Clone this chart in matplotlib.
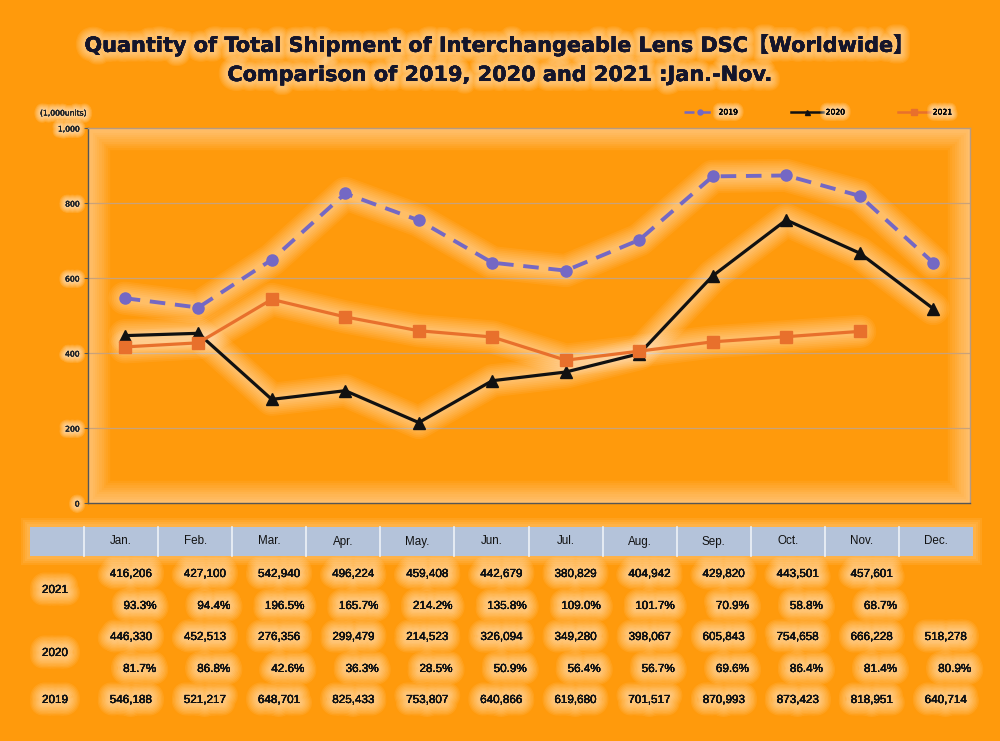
import matplotlib
matplotlib.use("Agg")
import matplotlib.pyplot as plt
import matplotlib.patheffects as pe
from matplotlib.patches import Rectangle

months = ["Jan.", "Feb.", "Mar.", "Apr.", "May.", "Jun.", "Jul.", "Aug.", "Sep.", "Oct.", "Nov.", "Dec."]
v2019 = [546188, 521217, 648701, 825433, 753807, 640866, 619680, 701517, 870993, 873423, 818951, 640714]
v2020 = [446330, 452513, 276356, 299479, 214523, 326094, 349280, 398067, 605843, 754658, 666228, 518278]
v2021 = [416206, 427100, 542940, 496224, 459408, 442679, 380829, 404942, 429820, 443501, 457601]
p2020 = ["81.7%", "86.8%", "42.6%", "36.3%", "28.5%", "50.9%", "56.4%", "56.7%", "69.6%", "86.4%", "81.4%", "80.9%"]
p2021 = ["93.3%", "94.4%", "196.5%", "165.7%", "214.2%", "135.8%", "109.0%", "101.7%", "70.9%", "58.8%", "68.7%"]
yticks = [0, 200, 400, 600, 800, 1000]

BG = "#FF9A0C"
W, H = 1000, 741


def glow(width=6, n=5, color="white", alpha=0.12, minw=0.0):
    effs = []
    for i in range(n, 0, -1):
        effs.append(pe.withStroke(linewidth=minw + (width - minw) * i / n, foreground=color, alpha=alpha))
    effs.append(pe.Normal())
    return effs


fig = plt.figure(figsize=(10, 7.41), dpi=100, facecolor=BG)

# axes
ax = fig.add_axes([88 / W, 1 - 503 / H, 882 / W, 375 / H])
ax.set_facecolor(BG)
ax.set_xlim(-0.5, 11.5)
ax.set_ylim(0, 1000)
ax.set_yticks(yticks)
ax.set_yticklabels([f"{t:,}" for t in yticks], fontsize=5.5, color="#222222")
for lab in ax.get_yticklabels():
    lab.set_path_effects(glow(9, 6, alpha=0.12))
ax.set_xticks([])
ax.tick_params(axis="y", length=3, width=0.8, color="#555555", pad=3)
for y in yticks[1:-1]:
    ax.axhline(y, color="#C9A27A", lw=0.9, zorder=1)
ax.spines["left"].set_color("#555555")
ax.spines["bottom"].set_color("#555555")
ax.spines["top"].set_color("#B89A80")
ax.spines["right"].set_color("#B89A80")
for s in ax.spines.values():
    s.set_linewidth(1.0)

# soft white glow along the inside of the plot frame
for i in range(10, 0, -1):
    ax.add_patch(Rectangle((0, 0), 1, 1, transform=ax.transAxes, facecolor="none",
                           edgecolor="white", lw=3.2 * i, alpha=0.05, zorder=0.8, clip_on=True))

x12 = list(range(12))
x11 = list(range(11))
series = [
    (x12, v2019, dict(color="#7468C4", lw=2.8, ls=(0, (4, 2.5)), marker="o", ms=8, label="2019")),
    (x12, v2020, dict(color="#111111", lw=2.3, ls="-", marker="^", ms=8, label="2020")),
    (x11, v2021, dict(color="#E8702C", lw=2.3, ls="-", marker="s", ms=8.5, label="2021")),
]
handles = []
for k, (xs, vs, kw) in enumerate(series):
    ys = [v / 1000 for v in vs]
    for i in range(8, 0, -1):
        ax.plot(xs, ys, color="white", lw=3 + 2.6 * i, alpha=0.06, solid_capstyle="round",
                solid_joinstyle="round", zorder=2 + k * 0.1)
    h, = ax.plot(xs, ys, zorder=5 + k, **kw)
    handles.append(h)

leg = fig.legend(handles=handles, loc="center", bbox_to_anchor=(818 / W, 1 - 112 / H),
                 ncol=3, frameon=False, fontsize=5.5, columnspacing=7, handlelength=4.2,
                 markerscale=0.45, handletextpad=0.3)
for t in leg.get_texts():
    t.set_path_effects(glow(9, 6, alpha=0.12))
for h in leg.get_lines():
    h.set_linewidth(1.8)

fig.text(40 / W, 1 - 113 / H, "(1,000units)", fontsize=5.5, color="#222222", va="center",
         path_effects=glow(9, 6, alpha=0.12))

# title
tkw = dict(fontsize=15, fontweight="bold", color="#15152A", ha="center", va="center",
           path_effects=glow(14, 7, alpha=0.07, minw=2))
fig.text(500 / W, 1 - 45 / H, "Quantity of Total Shipment of Interchangeable Lens DSC\u3010Worldwide\u3011",
         family=["DejaVu Sans", "Noto Sans CJK JP"], **tkw)
fig.text(500 / W, 1 - 75 / H, "Comparison of 2019, 2020 and 2021 :Jan.-Nov.", family="DejaVu Sans", **tkw)

# table
x0 = 30
col_w = (973 - 84) / 12
hdr_top, hdr_bot = 527, 556
for pad in [9, 7, 5, 3]:
    fig.patches.append(Rectangle(((x0 - pad) / W, 1 - (hdr_bot + pad) / H), (973 - x0 + 2 * pad) / W,
                                 (hdr_bot - hdr_top + 2 * pad) / H, transform=fig.transFigure,
                                 facecolor="white", alpha=0.07, edgecolor="none", zorder=0.5))
fig.patches.append(Rectangle((x0 / W, 1 - hdr_bot / H), (973 - x0) / W, (hdr_bot - hdr_top) / H,
                             transform=fig.transFigure, facecolor="#B4C3DA", edgecolor="none", zorder=1))
for i in range(12):
    xl = 84 + i * col_w
    fig.add_artist(plt.Line2D([xl / W, xl / W], [1 - hdr_bot / H, 1 - hdr_top / H],
                              transform=fig.transFigure, color="#EEF2F8", lw=1.2, zorder=2))

cell_kw = dict(fontsize=8.4, color="#111111", va="center", family="Liberation Sans",
               path_effects=glow(18, 8, alpha=0.07, minw=2))
for i, m in enumerate(months):
    cx = 84 + (i + 0.5) * col_w
    fig.text(cx / W, 1 - 541.5 / H, m, ha="center", fontsize=8.4, color="#111111", va="center",
             family="Liberation Sans")

rows = [
    (574, [f"{v:,}" for v in v2021], 152),
    (606, p2021, 156),
    (637, [f"{v:,}" for v in v2020], 152),
    (669, p2020, 156),
    (700, [f"{v:,}" for v in v2019], 152),
]
for y, vals, roff in rows:
    for i, s in enumerate(vals):
        xr = 84 + i * col_w + (roff - 84)
        fig.text(xr / W, 1 - y / H, s, ha="right", **cell_kw)

for y, lab in [(590, "2021"), (653, "2020"), (700, "2019")]:
    fig.text(55 / W, 1 - y / H, lab, ha="center", **cell_kw)

fig.savefig("out.png", dpi=100, facecolor=BG)
